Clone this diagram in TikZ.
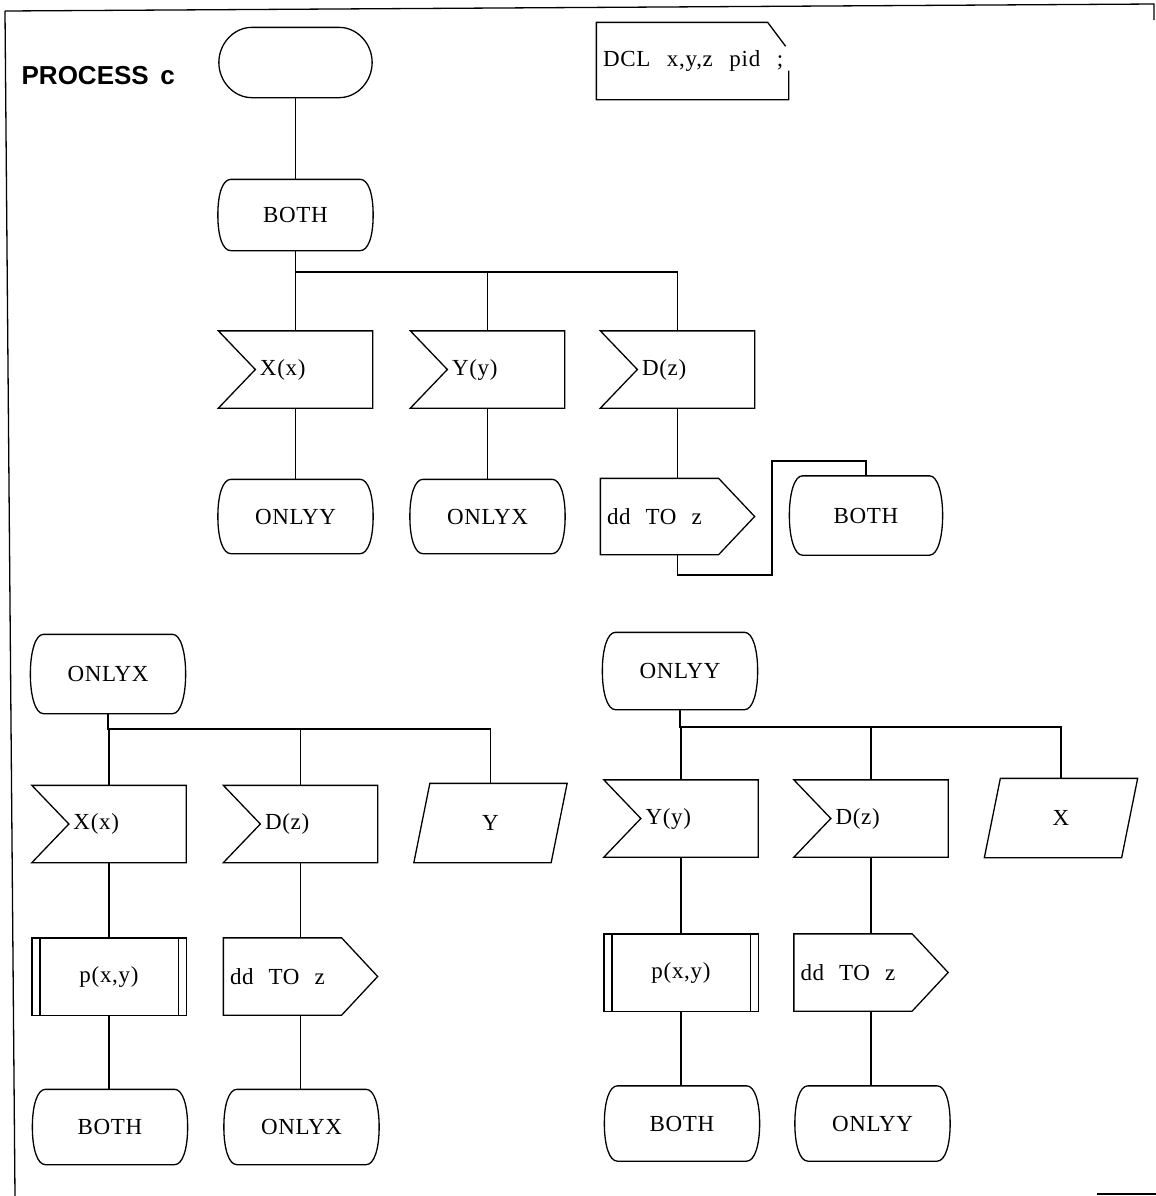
\documentclass[tikz,border=0pt]{standalone}
\usepackage{fontspec}
\setmainfont{Liberation Serif}[LetterSpace=3]
\newfontfamily\procfont{Liberation Sans}
\usetikzlibrary{calc}
\newcommand\wsp{\hspace{0.65em}}
\newcommand\wspd{\hspace{0.72em}}

\newcommand\sdlStart[1]{\draw ($(#1.north west)+(33,0)$) -- ($(#1.north east)+(-33,0)$)
  .. controls +(18,0) and +(0,-19) .. (#1.east)
  .. controls +(0,19) and +(18,0) .. ($(#1.south east)+(-33,0)$)
  -- ($(#1.south west)+(33,0)$)
  .. controls +(-18,0) and +(0,19) .. (#1.west)
  .. controls +(0,-19) and +(-18,0) .. ($(#1.north west)+(33,0)$) -- cycle;}
\newcommand\sdlState[1]{\draw ($(#1.north west)+(13,0)$) -- ($(#1.north east)+(-13,0)$)
  .. controls +(8,0) and +(0,-22) .. (#1.east)
  .. controls +(0,22) and +(8,0) .. ($(#1.south east)+(-13,0)$)
  -- ($(#1.south west)+(13,0)$)
  .. controls +(-8,0) and +(0,22) .. (#1.west)
  .. controls +(0,-22) and +(-8,0) .. ($(#1.north west)+(13,0)$) -- cycle;}
\newcommand\sdlInput[1]{\draw (#1.north west) -- (#1.north east) -- (#1.south east)
  -- (#1.south west) -- ($(#1.west)+(37,0)$) -- cycle;}
\newcommand\sdlOutput[1]{\draw (#1.north west) -- ($(#1.north east)+(-36,0)$) -- (#1.east)
  -- ($(#1.south east)+(-36,0)$) -- (#1.south west) -- cycle;}
\newcommand\sdlSave[1]{\draw ($(#1.north west)+(16,0)$) -- (#1.north east)
  -- ($(#1.south east)+(-16,0)$) -- (#1.south west) -- cycle;}
\newcommand\sdlProc[1]{\draw (#1.north west) rectangle (#1.south east);
  \draw ($(#1.north west)+(8,0)$) -- ($(#1.south west)+(8,0)$);
  \draw ($(#1.north east)+(-8,0)$) -- ($(#1.south east)+(-8,0)$);}

\tikzset{
  base/.style={draw=none, inner sep=0pt, font=\fontsize{11.5}{13}\selectfont},
  sstart/.style={base, minimum width=76pt, minimum height=34.5pt},
  sstate/.style={base, minimum width=77pt, minimum height=37pt},
  sinput/.style={base, minimum width=76.5pt, minimum height=38pt, text width=76.5pt,
    align=left, execute at begin node=\hspace*{20.5pt}},
  soutput/.style={base, minimum width=76.5pt, minimum height=38pt, text width=76.5pt,
    align=left, execute at begin node=\hspace*{3pt}},
  sproc/.style={base, minimum width=76.5pt, minimum height=38pt},
  ssave/.style={base, minimum width=76pt, minimum height=39pt},
  stext/.style={base, minimum width=95.5pt, minimum height=38pt, text width=95.5pt,
    align=left, execute at begin node=\hspace*{3pt}},
}

\begin{document}
\begin{tikzpicture}[x=0.5pt, y=-0.5pt, line width=0.65pt, line join=miter]
\useasboundingbox (0,0) rectangle (1156,1196);

% frame
\draw (5,11) -- (1154,4) -- (1154,20);
\draw (5,11) -- (15,1196);
\draw (1097,1194) -- (1156,1194);

\node[anchor=base west, inner sep=0pt, font=\procfont\fontsize{13}{15}\selectfont\bfseries] (title) at (21,84) {PROCESS\hspace{0.45em}c};

% text symbol
\node[stext] (dcl) at (692.5,61) {\mbox{DCL\wspd x,y,z\wspd pid\wspd ;}};
\draw ($(dcl.north east)+(-3,24)$) -- ($(dcl.north east)+(-21,0)$) -- (dcl.north west)
  -- (dcl.south west) -- (dcl.south east) -- ($(dcl.south east)+(0,-29)$);

% ---- top section ----
\node[sstart] (start) at (295.5,62.5) {};
\node[sstate, minimum height=35pt] (both1) at (295.5,215) {BOTH};
\node[sinput] (inX1) at (295.5,369.5) {X(x)};
\node[sinput] (inY1) at (487.5,369.5) {Y(y)};
\node[sinput] (inD1) at (677.5,369.5) {D(z)};
\node[sstate, minimum height=36.5pt] (onlyY1) at (295.5,516.5) {ONLYY};
\node[sstate, minimum height=36.5pt] (onlyX1) at (487.5,516.5) {ONLYX};
\node[soutput, minimum height=37.5pt] (out1) at (677.5,516.5) {dd\wsp TO\wsp z};
\node[sstate, minimum width=76pt, minimum height=39pt] (both2) at (866,515.5) {BOTH};

\sdlStart{start}
\sdlState{both1}
\sdlInput{inX1}\sdlInput{inY1}\sdlInput{inD1}
\sdlState{onlyY1}\sdlState{onlyX1}
\sdlOutput{out1}
\sdlState{both2}

\coordinate (bus1) at (295.5,272);
\coordinate (k1) at (772,575);
\coordinate (k2) at (772,461);
\draw (start.south) -- (both1.north);
\draw (both1.south) -- (inX1.north);
\draw (bus1) -| (inD1.north);
\draw (inY1.north) -- (inY1.north |- bus1);
\draw (inX1.south) -- (onlyY1.north);
\draw (inY1.south) -- (onlyX1.north);
\draw (inD1.south) -- (out1.north);
\draw (out1.south) |- (k1) -- (k2) -| (both2.north);

% ---- bottom left ----
\node[sstate, minimum height=39pt] (onlyX2) at (108,674) {ONLYX};
\node[sinput] (inX2) at (109,824) {X(x)};
\node[sinput] (inD2) at (300.5,824) {D(z)};
\node[ssave] (saveY) at (490.5,823) {Y};
\node[sproc] (proc1) at (109,976.5) {p(x,y)};
\node[soutput] (out2) at (300.5,976.5) {dd\wsp TO\wsp z};
\node[sstate] (both3) at (110,1127) {BOTH};
\node[sstate] (onlyX3) at (301.5,1127) {ONLYX};

\sdlState{onlyX2}
\sdlInput{inX2}\sdlInput{inD2}
\sdlSave{saveY}
\sdlProc{proc1}
\sdlOutput{out2}
\sdlState{both3}\sdlState{onlyX3}

\coordinate (bus2) at (108,729);
\draw (onlyX2.south) -- (bus2) -| (saveY.north);
\draw (inX2.north) -- (inX2.north |- bus2);
\draw (inD2.north) -- (inD2.north |- bus2);
\draw (inX2.south) -- (proc1.north);
\draw (inD2.south) -- (out2.north);
\draw (proc1.south) -- (proc1.south |- both3.north);
\draw (out2.south) -- (out2.south |- onlyX3.north);

% ---- bottom right ----
\node[sstate, minimum height=38pt] (onlyY2) at (680,671) {ONLYY};
\node[sinput] (inY2) at (681,818.5) {Y(y)};
\node[sinput] (inD3) at (871,818.5) {D(z)};
\node[ssave] (saveX) at (1061,818) {X};
\node[sproc] (proc2) at (681,972.5) {p(x,y)};
\node[soutput] (out3) at (871,972.5) {dd\wsp TO\wsp z};
\node[sstate] (both4) at (682,1123.5) {BOTH};
\node[sstate] (onlyY3) at (872.5,1123.5) {ONLYY};

\sdlState{onlyY2}
\sdlInput{inY2}\sdlInput{inD3}
\sdlSave{saveX}
\sdlProc{proc2}
\sdlOutput{out3}
\sdlState{both4}\sdlState{onlyY3}

\coordinate (bus3) at (680,727);
\draw (onlyY2.south) -- (bus3) -| (saveX.north);
\draw (inY2.north) -- (inY2.north |- bus3);
\draw (inD3.north) -- (inD3.north |- bus3);
\draw (inY2.south) -- (proc2.north);
\draw (inD3.south) -- (out3.north);
\draw (proc2.south) -- (proc2.south |- both4.north);
\draw (out3.south) -- (out3.south |- onlyY3.north);
\end{tikzpicture}
\end{document}
